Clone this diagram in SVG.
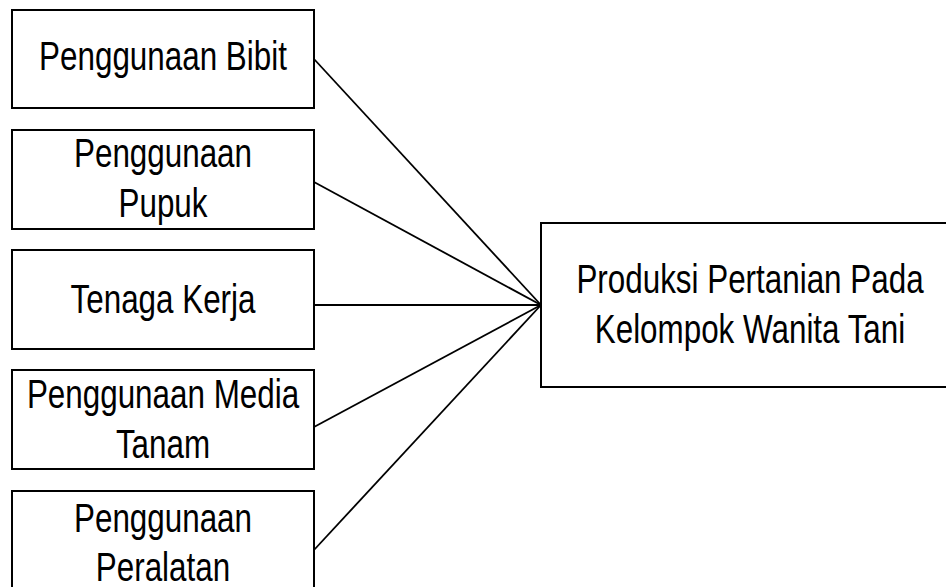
<svg xmlns="http://www.w3.org/2000/svg" width="946" height="587" viewBox="0 0 946 587">
<style>
  rect.box { fill: #ffffff; stroke: #000000; stroke-width: 2; }
  text { font-family: "Liberation Sans", Arial, sans-serif; font-size: 40px; fill: #000000; text-anchor: middle; }
  #connectors line { stroke: #000000; stroke-width: 1.8; }
</style>
<rect x="0" y="0" width="946" height="587" fill="#ffffff"/>
<g id="connectors">
  <line x1="314" y1="59" x2="541" y2="305"/>
  <line x1="314" y1="182" x2="541" y2="305"/>
  <line x1="314" y1="305" x2="541" y2="305"/>
  <line x1="314" y1="427" x2="541" y2="305"/>
  <line x1="314" y1="550" x2="541" y2="305"/>
</g>
<g id="bibit">
  <rect class="box" x="12" y="10" width="302" height="98"/>
  <text transform="translate(163,70) scale(0.785,1)">Penggunaan Bibit</text>
</g>
<g id="pupuk">
  <rect class="box" x="12" y="130" width="302" height="99"/>
  <text transform="translate(163,167) scale(0.785,1)">Penggunaan</text>
  <text transform="translate(163,217) scale(0.785,1)">Pupuk</text>
</g>
<g id="tenaga">
  <rect class="box" x="12" y="250" width="302" height="99"/>
  <text transform="translate(163,313) scale(0.785,1)">Tenaga Kerja</text>
</g>
<g id="media">
  <rect class="box" x="12" y="370" width="302" height="99"/>
  <text transform="translate(163,408) scale(0.785,1)">Penggunaan Media</text>
  <text transform="translate(163,458) scale(0.785,1)">Tanam</text>
</g>
<g id="peralatan">
  <rect class="box" x="12" y="491" width="302" height="99"/>
  <text transform="translate(163,532) scale(0.785,1)">Penggunaan</text>
  <text transform="translate(163,581) scale(0.785,1)">Peralatan</text>
</g>
<g id="produksi">
  <rect class="box" x="541" y="223" width="416" height="164"/>
  <text transform="translate(750,293) scale(0.785,1)">Produksi Pertanian Pada</text>
  <text transform="translate(750,343) scale(0.785,1)">Kelompok Wanita Tani</text>
</g>
</svg>
